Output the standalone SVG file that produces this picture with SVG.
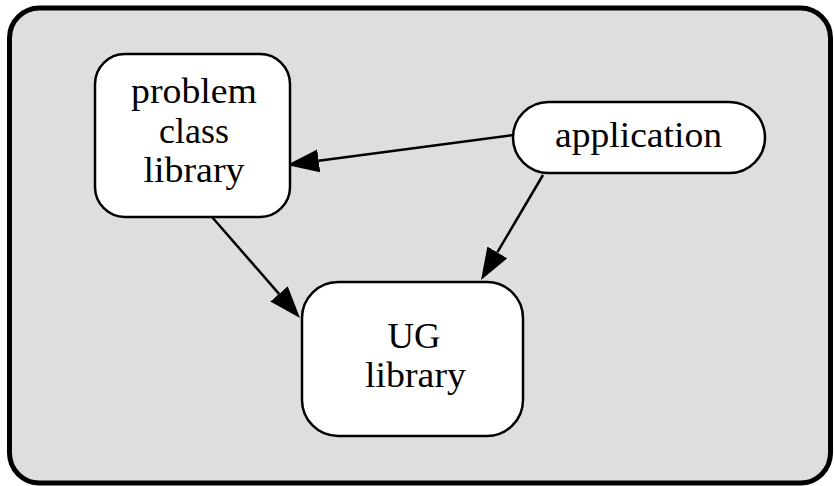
<svg xmlns="http://www.w3.org/2000/svg" width="834" height="486" viewBox="0 0 834 486">
  <style>
    .frame { fill: #dedede; stroke: #000; stroke-width: 5; }
    .node { fill: #fff; stroke: #000; stroke-width: 2.5; }
    .label { font-family: "Liberation Serif", "Times New Roman", serif; font-size: 35px; fill: #000; text-anchor: middle; }
    .edge { fill: none; stroke: #000; stroke-width: 2.5; }
  </style>
  <defs>
    <marker id="arrow" viewBox="0 0 32 23" refX="0" refY="11.5" markerWidth="32" markerHeight="23" markerUnits="userSpaceOnUse" orient="auto">
      <path d="M0,0 L32,11.5 L0,23 z" fill="#000"/>
    </marker>
  </defs>

  <!-- enclosing cluster -->
  <rect class="frame" x="9.5" y="8" width="821" height="475" rx="30" ry="30"/>

  <g id="connectors">
    <line class="edge" x1="513" y1="135" x2="318.7" y2="160.8" marker-end="url(#arrow)"/>
    <line class="edge" x1="543" y1="175" x2="497.3" y2="252.4" marker-end="url(#arrow)"/>
    <line class="edge" x1="212" y1="217" x2="279" y2="293.9" marker-end="url(#arrow)"/>
  </g>

  <g id="problem-class-library">
    <rect class="node" x="95" y="54" width="195" height="163" rx="30" ry="30"/>
    <text class="label" x="194" y="103" textLength="126" lengthAdjust="spacingAndGlyphs">problem</text>
    <text class="label" x="194" y="143" textLength="70" lengthAdjust="spacingAndGlyphs">class</text>
    <text class="label" x="194" y="182" textLength="101" lengthAdjust="spacingAndGlyphs">library</text>
  </g>

  <g id="application">
    <rect class="node" x="513" y="102" width="252" height="71" rx="35.5" ry="35.5"/>
    <text class="label" x="638.5" y="147" textLength="167" lengthAdjust="spacingAndGlyphs">application</text>
  </g>

  <g id="ug-library">
    <rect class="node" x="302" y="282" width="221" height="154" rx="36" ry="36"/>
    <text class="label" x="414" y="348" textLength="53" lengthAdjust="spacingAndGlyphs">UG</text>
    <text class="label" x="415.5" y="387" textLength="101" lengthAdjust="spacingAndGlyphs">library</text>
  </g>
</svg>
